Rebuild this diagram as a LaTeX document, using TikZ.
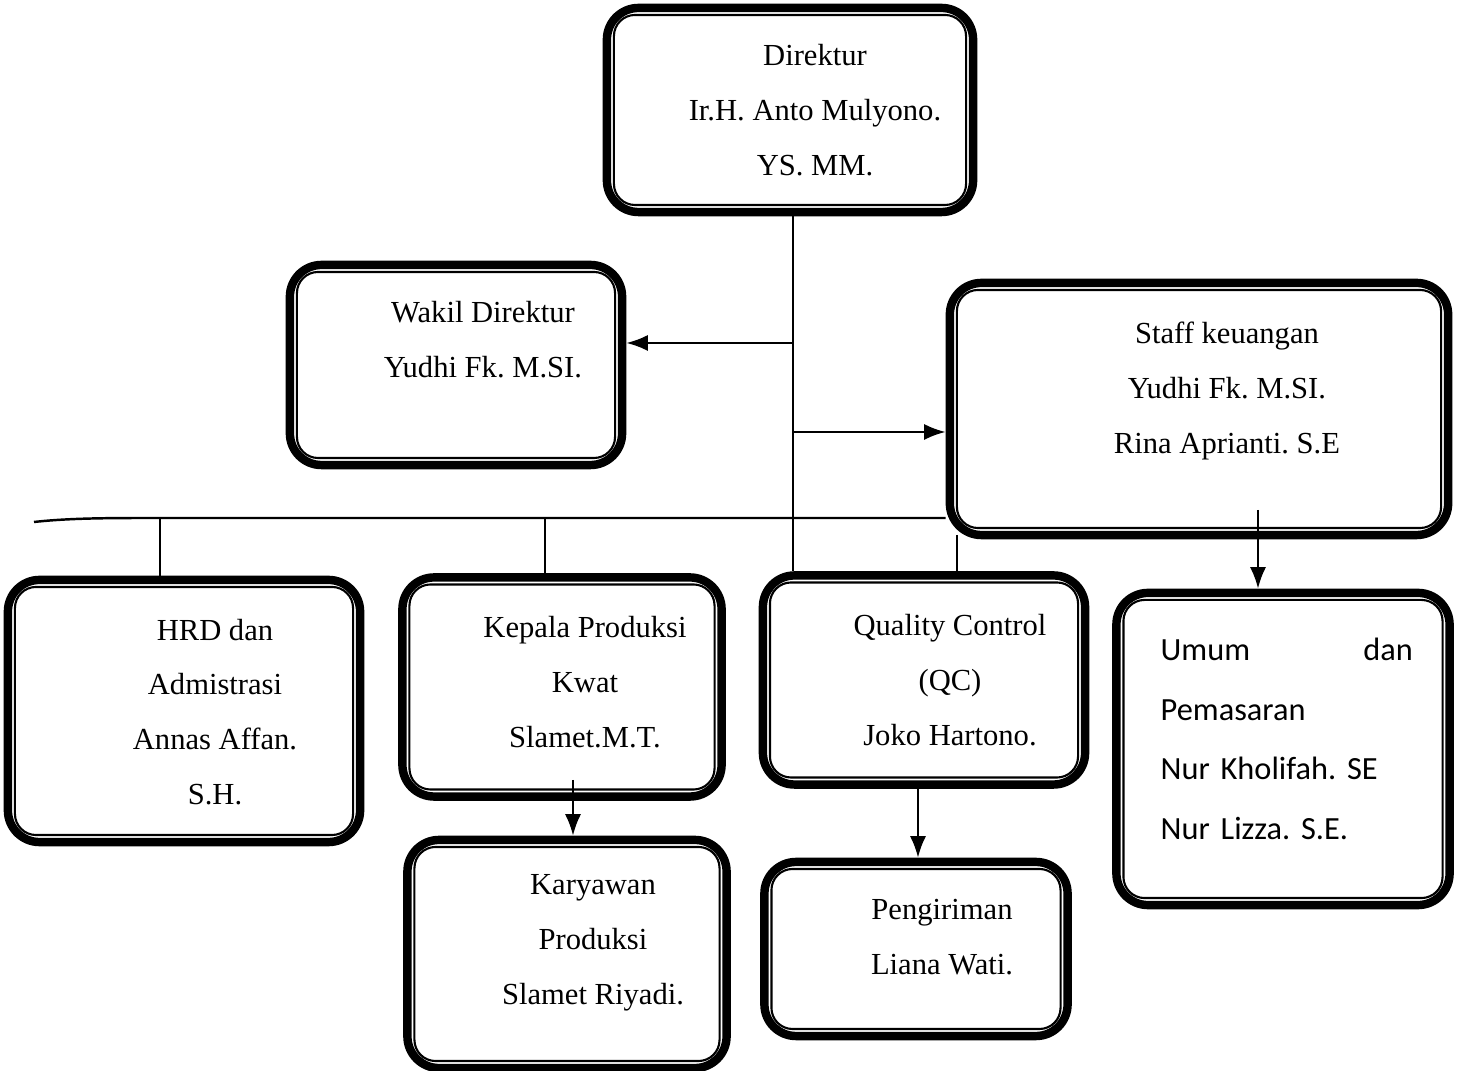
\documentclass[tikz,border=0pt]{standalone}
\usepackage{fontspec}
\setmainfont{Liberation Serif}
\newfontfamily\umumfont{Carlito}
\usetikzlibrary{arrows.meta}
\frenchspacing

\tikzset{
  box/.style={draw, line width=2.4pt, rounded corners=9pt, fill=white, inner sep=0pt},
  txt/.style={align=center, inner sep=0pt, font=\fontsize{8.7}{15.6}\selectfont},
  conn/.style={line width=0.7pt}
}

\begin{document}
\begin{tikzpicture}[>=Latex, x=0.01cm, y=-0.01cm]
    \useasboundingbox (0,0) rectangle (1466,1071);

    \node[box, minimum width=3.66cm, minimum height=2.04cm] (dir) at (790,110) {};
    \node[box, minimum width=3.32cm, minimum height=2.00cm] (wakil) at (456,365) {};
    \node[box, minimum width=4.98cm, minimum height=2.52cm] (staff) at (1199,409) {};
    \node[box, minimum width=3.52cm, minimum height=2.62cm] (hrd) at (184,711) {};
    \node[box, minimum width=3.19cm, minimum height=2.19cm] (kepala) at (562,687) {};
    \node[box, minimum width=3.22cm, minimum height=2.09cm] (qc) at (924,680) {};
    \node[box, minimum width=3.33cm, minimum height=3.12cm] (umum) at (1283,749) {};
    \node[box, minimum width=3.19cm, minimum height=2.28cm] (karyawan) at (567,954) {};
    \node[box, minimum width=3.03cm, minimum height=1.74cm] (kirim) at (916,949) {};

    \foreach \n in {dir,wakil,staff,hrd,kepala,qc,umum,karyawan,kirim}{
      \draw[line width=0.6pt, rounded corners=6pt] ([shift={(3.2pt,-3.2pt)}]\n.north west) rectangle ([shift={(-3.2pt,3.2pt)}]\n.south east);
    }

    \node[txt] (dirT) at (815,110) {Direktur\\Ir.H. Anto Mulyono.\\YS. MM.};
    \node[txt] (wakilT) at (483,340) {Wakil Direktur\\Yudhi Fk. M.SI.};
    \node[txt] (staffT) at (1227,391) {Staff keuangan\\Yudhi Fk. M.SI.\\Rina Aprianti. S.E};
    \node[txt] (hrdT) at (215,712) {HRD dan\\Admistrasi\\Annas Affan.\\S.H.};
    \node[txt] (kepalaT) at (585,682) {Kepala Produksi\\Kwat\\Slamet.M.T.};
    \node[txt] (qcT) at (950,680) {Quality Control\\(QC)\\Joko Hartono.};
    \node[txt, font=\umumfont\fontsize{9.2}{17}\selectfont, align=left, text width=2.52cm, anchor=west] (umumT) at (1160,739) {Umum \hfill dan\\Pemasaran\\Nur Kholifah. SE\\Nur Lizza. S.E.};
    \node[txt] (karyawanT) at (593,943) {Karyawan\\Produksi\\Slamet Riyadi.};
    \node[txt] (kirimT) at (942,937) {Pengiriman\\Liana Wati.};

    \coordinate (t1) at (793,343);
    \coordinate (t2) at (793,432);
    \draw[conn] (dir.south -| t1) -- (t1 |- qc.north);
    \draw[conn,->] (t1) -- (t1 -| wakil.east);
    \draw[conn,->] (t2) -- (t2 -| staff.west);

    \coordinate (busL) at (34,522);
    \coordinate (b1) at (160,518);
    \coordinate (b2) at (545,518);
    \coordinate (b3) at (957,535);
    \draw[conn] (busL) .. controls (70,518) and (110,518) .. (b1) -- (b1 -| staff.west);
    \draw[conn] (b1) -- (b1 |- hrd.north);
    \draw[conn] (b2) -- (b2 |- kepala.north);
    \draw[conn] (b3) -- (b3 |- qc.north);

    \coordinate (s1) at (1258,510);
    \coordinate (k1) at (573,780);
    \coordinate (q1) at (918,785);
    \draw[conn,->] (s1) -- (s1 |- umum.north);
    \draw[conn,->] (k1) -- (k1 |- karyawan.north);
    \draw[conn,->] (q1) -- (q1 |- kirim.north);

  \end{tikzpicture}
\end{document}
